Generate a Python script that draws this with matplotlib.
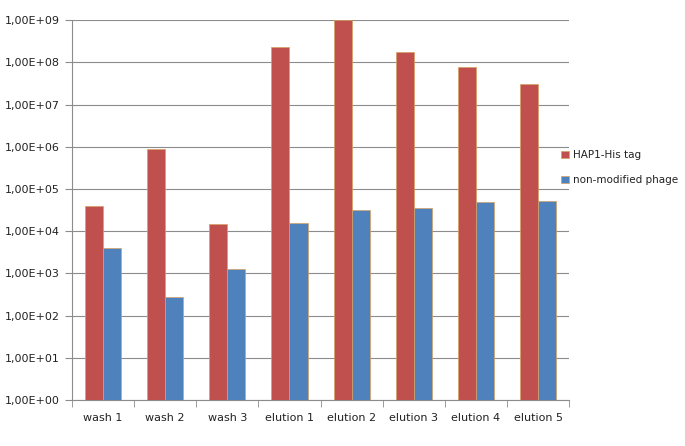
import matplotlib.pyplot as plt
import numpy as np
from matplotlib.ticker import FixedLocator, FuncFormatter

categories = ["wash 1", "wash 2", "wash 3", "elution 1", "elution 2", "elution 3", "elution 4", "elution 5"]
hap1_his = [4.0e4, 9.0e5, 1.5e4, 2.3e8, 1.0e9, 1.8e8, 7.8e7, 3.1e7]
non_modified = [3.9e3, 2.8e2, 1.3e3, 1.6e4, 3.1e4, 3.5e4, 5.0e4, 5.3e4]

fig = plt.figure(figsize=(6.85, 4.46), dpi=100)
ax = fig.add_axes([0.105, 0.103, 0.726, 0.852])

x = np.arange(len(categories))
w = 0.29
ax.bar(x - w / 2, hap1_his, w, color="#C0504D", edgecolor="#D7A060", linewidth=0.5,
       label="HAP1-His tag", zorder=3)
ax.bar(x + w / 2, non_modified, w, color="#4F81BD", edgecolor="#D7A060", linewidth=0.5,
       label="non-modified phage", zorder=3)

ax.set_yscale("log")
ax.set_ylim(1, 1e9)
ax.set_xlim(-0.5, len(categories) - 0.5)
ax.yaxis.set_major_locator(FixedLocator([10.0 ** k for k in range(10)]))
ax.yaxis.set_minor_locator(FixedLocator([]))
ax.yaxis.set_major_formatter(FuncFormatter(lambda v, p: "1,00E+%02d" % round(np.log10(v))))
ax.grid(axis="y", color="#8c8c8c", linewidth=0.8, zorder=0)

ax.set_xticks(x)
ax.set_xticklabels(categories)
ax.set_xticks(np.arange(-0.5, len(categories)), minor=True)
ax.tick_params(axis="x", which="major", length=0, pad=9, labelsize=8)
ax.tick_params(axis="x", which="minor", length=5, color="#8c8c8c", direction="out")
ax.tick_params(axis="y", length=5, color="#8c8c8c", labelsize=8)
for lbl in ax.get_xticklabels() + ax.get_yticklabels():
    lbl.set_color("#222222")

for s in ["top", "right"]:
    ax.spines[s].set_visible(False)
ax.spines["left"].set_color("#8c8c8c")
ax.spines["bottom"].set_color("#8c8c8c")

leg = ax.legend(loc="center left", bbox_to_anchor=(0.984, 0.612), frameon=False, fontsize=7.5,
                handlelength=0.7, handleheight=0.7, handletextpad=0.4, labelspacing=1.4,
                borderpad=0, borderaxespad=0)
for t in leg.get_texts():
    t.set_color("#222222")

fig.savefig("out.png", dpi=100)
